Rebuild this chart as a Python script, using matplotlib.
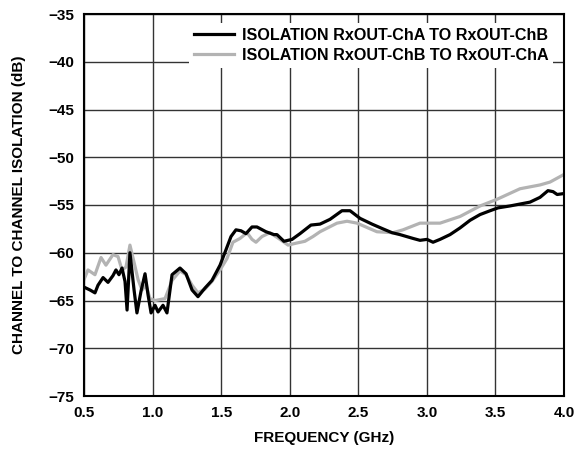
import matplotlib
matplotlib.use("Agg")
import matplotlib.pyplot as plt

plt.rcParams['font.family'] = ['Liberation Sans', 'DejaVu Sans']

freq_a = [0.500, 0.544, 0.580, 0.602, 0.639, 0.675, 0.711, 0.733, 0.755, 0.777,
          0.799, 0.814, 0.835, 0.865, 0.886, 0.916, 0.945, 0.967, 0.989, 1.018,
          1.040, 1.076, 1.105, 1.142, 1.200, 1.244, 1.288, 1.331, 1.382, 1.433,
          1.492, 1.535, 1.572, 1.608, 1.645, 1.681, 1.725, 1.761, 1.827, 1.885,
          1.907, 1.958, 2.017, 2.075, 2.155, 2.221, 2.294, 2.381, 2.440, 2.513,
          2.600, 2.680, 2.746, 2.804, 2.899, 2.950, 3.001, 3.045, 3.096, 3.169,
          3.242, 3.315, 3.388, 3.461, 3.519, 3.606, 3.679, 3.752, 3.825, 3.883,
          3.920, 3.950, 4.000]
iso_a = [-63.6, -63.9, -64.2, -63.4, -62.6, -63.1, -62.4, -61.8, -62.3, -61.6,
         -63.0, -66.0, -60.0, -63.9, -66.3, -64.0, -62.2, -64.4, -66.3, -65.5,
         -66.2, -65.5, -66.3, -62.3, -61.6, -62.2, -63.9, -64.6, -63.7, -62.9,
         -61.3, -59.7, -58.3, -57.6, -57.7, -58.0, -57.3, -57.3, -57.8, -58.1,
         -58.1, -58.8, -58.6, -58.0, -57.1, -57.0, -56.5, -55.6, -55.6, -56.4,
         -57.0, -57.5, -57.9, -58.1, -58.5, -58.7, -58.6, -58.9, -58.6, -58.1,
         -57.4, -56.6, -56.0, -55.6, -55.3, -55.1, -54.9, -54.7, -54.2, -53.5,
         -53.6, -53.9, -53.8]

freq_b = [0.500, 0.529, 0.580, 0.624, 0.660, 0.711, 0.748, 0.777, 0.806, 0.835,
          0.865, 0.894, 0.923, 0.952, 0.981, 1.018, 1.091, 1.142, 1.200, 1.244,
          1.288, 1.331, 1.382, 1.433, 1.492, 1.543, 1.586, 1.638, 1.689, 1.725,
          1.754, 1.798, 1.856, 1.929, 1.988, 2.046, 2.111, 2.170, 2.221, 2.345,
          2.418, 2.491, 2.571, 2.636, 2.753, 2.826, 2.950, 3.096, 3.242, 3.388,
          3.512, 3.679, 3.825, 3.898, 4.000]
iso_b = [-62.8, -61.8, -62.3, -60.5, -61.3, -60.2, -60.4, -61.8, -61.5, -59.2,
         -61.0, -62.8, -63.9, -63.4, -64.8, -65.0, -64.8, -62.9, -61.9, -62.3,
         -63.4, -64.2, -63.8, -63.0, -61.8, -60.6, -58.9, -58.5, -57.9, -58.6,
         -58.9, -58.3, -57.9, -58.6, -59.2, -59.0, -58.8, -58.3, -57.8, -56.9,
         -56.7, -56.9, -57.4, -57.8, -57.9, -57.6, -56.9, -56.9, -56.2, -55.1,
         -54.4, -53.3, -52.9, -52.6, -51.8]

label_a = "ISOLATION RxOUT-ChA TO RxOUT-ChB"
label_b = "ISOLATION RxOUT-ChB TO RxOUT-ChA"
xticks = [0.5, 1.0, 1.5, 2.0, 2.5, 3.0, 3.5, 4.0]
yticks = [-75, -70, -65, -60, -55, -50, -45, -40, -35]

fig = plt.figure(figsize=(5.84, 4.51), dpi=100)
ax = fig.add_axes([84/584, 1-396/451, 480/584, 382/451])

ax.plot(freq_a, iso_a, color='black', lw=2.3, label=label_a, zorder=3)
ax.plot(freq_b, iso_b, color='#b3b3b3', lw=2.3, label=label_b, zorder=2)

ax.set_xlim(0.5, 4.0)
ax.set_ylim(-75, -35)
ax.set_xticks(xticks)
ax.set_yticks(yticks)
ax.set_xticklabels([f"{t:.1f}" for t in xticks], fontsize=11, fontweight='bold')
ax.set_yticklabels([f"\u2212{abs(t)}" for t in yticks], fontsize=11, fontweight='bold')
ax.tick_params(axis='x', length=0, pad=7)
ax.tick_params(axis='y', length=0, pad=7)
ax.grid(True, color='#333333', lw=1.0)
for s in ax.spines.values():
    s.set_linewidth(1.5)
    s.set_color('black')

ax.set_xlabel("FREQUENCY (GHz)", fontsize=11, fontweight='bold', labelpad=8)
ax.set_ylabel("CHANNEL TO CHANNEL ISOLATION (dB)", fontsize=11, fontweight='bold', labelpad=16)

leg = ax.legend(loc='upper right', bbox_to_anchor=(0.977, 0.976),
                prop={'weight': 'bold', 'size': 11.6}, frameon=True, fancybox=False,
                handlelength=2.5, handletextpad=0.45, labelspacing=0.3,
                borderpad=0.3, borderaxespad=0.0)
leg.get_frame().set_facecolor('white')
leg.get_frame().set_edgecolor('none')
leg.get_frame().set_alpha(1)

fig.savefig("out.png", dpi=100)
